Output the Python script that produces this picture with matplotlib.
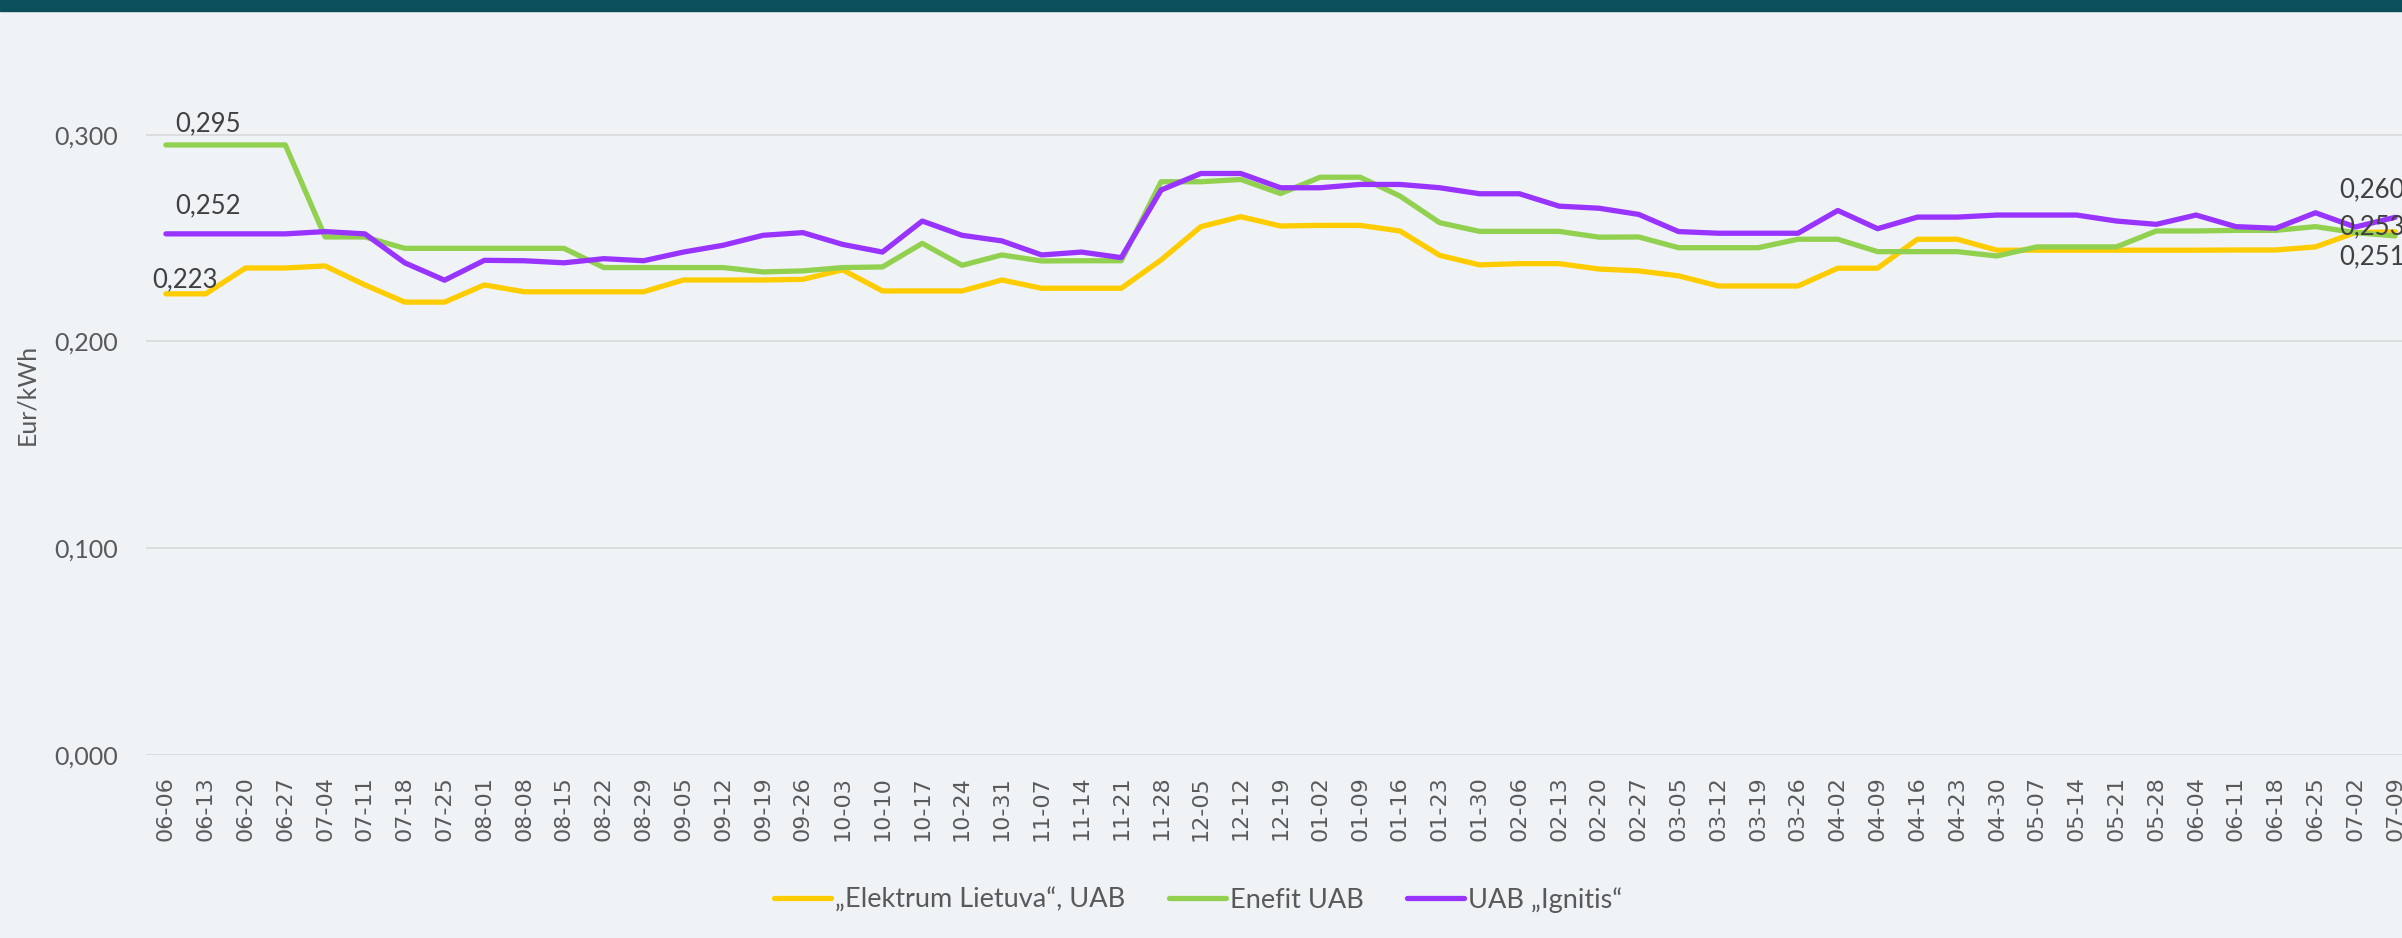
import matplotlib
matplotlib.use("Agg")
import matplotlib.pyplot as plt
from matplotlib.patches import Rectangle

dates = ["06-06","06-13","06-20","06-27","07-04","07-11","07-18","07-25","08-01","08-08",
         "08-15","08-22","08-29","09-05","09-12","09-19","09-26","10-03","10-10","10-17",
         "10-24","10-31","11-07","11-14","11-21","11-28","12-05","12-12","12-19","01-02",
         "01-09","01-16","01-23","01-30","02-06","02-13","02-20","02-27","03-05","03-12",
         "03-19","03-26","04-02","04-09","04-16","04-23","04-30","05-07","05-14","05-21",
         "05-28","06-04","06-11","06-18","06-25","07-02","07-09"]

elektrum = [0.223,0.223,0.2355,0.2355,0.2365,0.2273,0.219,0.219,0.2273,0.224,
            0.224,0.224,0.224,0.2297,0.2297,0.2297,0.230,0.2346,0.2244,0.2244,
            0.2244,0.2297,0.2257,0.2257,0.2257,0.2394,0.2555,0.2603,0.2558,0.2561,
            0.2561,0.2534,0.2416,0.237,0.2376,0.2376,0.2350,0.2341,0.2317,0.2268,
            0.2268,0.2268,0.2354,0.2354,0.2494,0.2494,0.2441,0.2441,0.2441,0.2441,
            0.2441,0.2441,0.2442,0.2442,0.2457,0.2526,0.253]

enefit = [0.295,0.295,0.295,0.295,0.2505,0.2505,0.245,0.245,0.245,0.245,
          0.245,0.2357,0.2357,0.2357,0.2357,0.2336,0.2341,0.2357,0.236,0.2474,
          0.2368,0.2418,0.2389,0.239,0.239,0.2772,0.2772,0.2783,0.2715,0.2794,
          0.2794,0.2703,0.2574,0.2532,0.2532,0.2532,0.2504,0.2505,0.2453,0.2453,
          0.2453,0.2494,0.2494,0.2434,0.2434,0.2434,0.2413,0.2457,0.2457,0.2457,
          0.2534,0.2534,0.2537,0.2537,0.2555,0.2526,0.251]

ignitis = [0.252,0.252,0.252,0.252,0.2531,0.252,0.238,0.2296,0.2392,0.239,
           0.238,0.240,0.239,0.2432,0.2465,0.2513,0.2526,0.2469,0.2432,0.2582,
           0.2513,0.2486,0.2418,0.2432,0.2405,0.2732,0.2812,0.2812,0.2743,0.2743,
           0.2759,0.2759,0.2743,0.2714,0.2714,0.2654,0.2644,0.2614,0.2531,0.2523,
           0.2523,0.2523,0.2633,0.2545,0.2601,0.2601,0.2611,0.2611,0.2611,0.2582,
           0.2566,0.2611,0.2555,0.2547,0.2622,0.2553,0.260]

series_names = ["\u201eElektrum Lietuva\u201c, UAB", "Enefit UAB", "UAB \u201eIgnitis\u201c"]
colors = ["#FFCC00", "#92D050", "#9933FF"]
yticks = [0.0, 0.1, 0.2, 0.3]
ylabel = "Eur/kWh"

BG = "#eff3f6"
W, H = 2402, 938
fig = plt.figure(figsize=(W/100, H/100), dpi=100, facecolor=BG)
fig.patches.append(Rectangle((0, 1 - 11/H), 1, 11/H, transform=fig.transFigure,
                             color="#0a4f5a", zorder=10))

ax = fig.add_axes([146/W, 183/H, 2269/W, 723.8/H])
ax.set_facecolor(BG)
x = list(range(len(dates)))
data = [elektrum, enefit, ignitis]
lines = []
for vals, c, n in zip(data, colors, series_names):
    ln, = ax.plot(x, vals, color=c, lw=3.8, label=n, solid_joinstyle="round",
                  solid_capstyle="round", zorder=3)
    lines.append(ln)

ax.set_xlim(-0.5, len(dates) - 0.5)
ax.set_ylim(0, 0.35)
ax.set_yticks(yticks)
ax.set_yticklabels([f"{v:.3f}".replace(".", ",") for v in yticks],
                   fontfamily="Lato", fontsize=18, color="#595959")
ax.set_xticks(x)
ax.set_xticklabels(dates, rotation=90, fontfamily="DejaVu Sans", fontsize=16,
                   color="#595959")
ax.tick_params(axis="both", length=0)
ax.tick_params(axis="x", pad=15)
ax.tick_params(axis="y", pad=20)
ax.grid(axis="y", color="#d9d9d9", lw=1.2, zorder=0)
for s in ax.spines.values():
    s.set_visible(False)

fig.text(27/W, 1 - 394/H, ylabel, rotation=90, ha="center", va="center",
         fontfamily="Lato", fontsize=18, color="#595959")

def lab(v):
    return f"{v:.3f}".replace(".", ",")

lab_kw = dict(textcoords="offset points", fontfamily="Lato", fontsize=18.5,
              color="#404040", annotation_clip=False, zorder=5)
# first-point labels
ax.annotate(lab(enefit[0]), (0, enefit[0]), xytext=(30, 15), ha="center", va="center", **lab_kw)
ax.annotate(lab(ignitis[0]), (0, ignitis[0]), xytext=(30, 20), ha="center", va="center", **lab_kw)
ax.annotate(lab(elektrum[0]), (0, elektrum[0]), xytext=(14, 10), ha="center", va="center", **lab_kw)
# last-point labels
n = len(dates) - 1
ax.annotate(lab(ignitis[n]), (n, ignitis[n]), xytext=(-40, 19.5), ha="left", va="center", **lab_kw)
ax.annotate(lab(elektrum[n]), (n, elektrum[n]), xytext=(-40, 3.6), ha="left", va="center", **lab_kw)
ax.annotate(lab(enefit[n]), (n, enefit[n]), xytext=(-40, -15), ha="left", va="center", **lab_kw)

leg = fig.legend(handles=lines, loc="center", bbox_to_anchor=(1198/W, 38/H), ncol=3,
                 frameon=False, handlelength=2.1, handletextpad=0.15, columnspacing=1.6,
                 prop={"family": "Lato", "size": 19.5})
for t in leg.get_texts():
    t.set_color("#595959")

fig.savefig("out.png", dpi=100, facecolor=BG)
